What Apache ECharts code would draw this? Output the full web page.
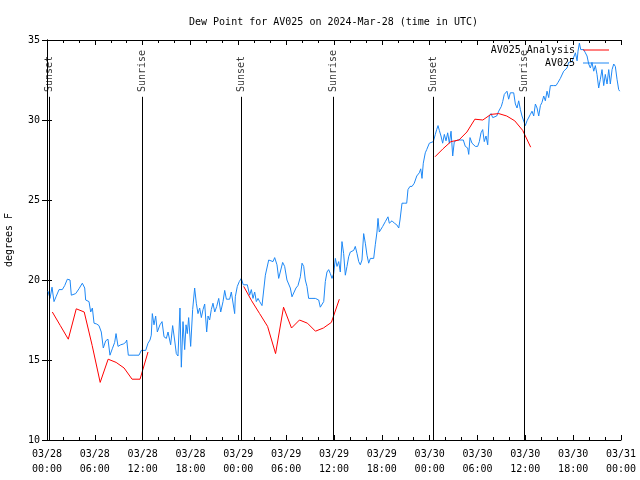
<!DOCTYPE html>
<html>
<head>
<meta charset="utf-8">
<script src="https://cdn.jsdelivr.net/npm/echarts@6/dist/echarts.min.js"></script>
<style>html,body{margin:0;padding:0;background:#fff}#c{width:640px;height:480px}</style>
</head>
<body>
<div id="c"></div>
<script>
// Hours since 03/28 00:00 UTC
const blueHours = [0.13,0.38,0.63,0.88,1.13,1.51,1.92,2.22,2.55,2.89,3.05,3.3,3.6,4.01,4.43,4.73,4.85,5.27,5.48,5.69,5.9,6.23,6.52,6.81,7.06,7.36,7.65,7.9,8.19,8.49,8.66,8.91,9.24,9.57,9.87,10.0,10.2,10.91,11.54,11.83,12.38,12.67,12.92,13.08,13.21,13.42,13.63,13.84,14.17,
14.43,14.68,14.97,15.18,15.51,15.76,16.01,16.22,16.43,16.68,16.85,17.06,17.27,17.44,17.6,17.77,18.02,18.27,18.52,18.73,18.94,19.15,19.36,19.57,19.78,20.03,20.2,20.4,20.61,20.82,21.04,21.29,21.54,21.79,22.08,22.29,22.5,22.91,23.12,23.33,23.54,23.62,23.87,24.12,24.37,24.62,24.87,25.13,25.42,25.63,25.84,26.05,26.26,26.47,26.68,26.97,27.22,27.39,27.64,27.81,28.06,28.35,
28.56,28.85,29.06,29.31,29.56,29.81,30.1,30.31,30.52,30.73,30.98,31.23,31.48,31.78,31.99,32.2,32.4,32.61,32.82,33.24,33.66,33.87,34.08,34.28,34.5,34.71,34.91,35.12,35.33,35.54,35.75,35.96,36.17,36.38,36.59,36.79,37.0,37.21,37.42,37.63,37.84,38.05,38.47,38.67,38.89,39.1,39.3,39.51,39.72,39.93,40.14,40.35,40.56,40.77,40.98,41.18,41.39,41.52,41.68,41.93,42.11,42.44,42.77,42.94,
43.28,43.57,43.87,44.12,44.28,44.53,44.82,45.12,45.28,45.53,45.79,46.07,46.38,46.7,46.88,47.04,47.2,47.45,47.63,47.79,47.96,48.21,48.46,48.71,48.88,49.05,49.21,49.42,49.63,49.84,50.05,50.26,50.47,50.68,50.89,51.09,51.3,51.52,51.72,51.93,52.22,52.47,52.77,52.9,53.06,53.31,53.48,53.73,54.02,54.23,54.44,54.65,54.85,55.07,55.28,55.48,55.69,55.91,56.11,56.41,56.66,56.82,56.99,57.16,57.36,
57.7,57.91,58.12,58.54,58.75,58.96,59.17,59.38,59.58,59.79,60.0,60.21,60.42,60.63,60.84,61.05,61.26,61.47,61.68,61.89,62.09,62.31,62.51,62.72,62.93,63.14,63.56,63.85,64.1,64.39,64.6,64.81,65.02,65.23,65.44,65.65,65.86,66.07,66.28,66.49,66.61,66.78,66.95,67.11,67.32,67.53,67.74,67.95,68.16,68.36,68.58,68.78,68.99,69.2,69.41,69.62,69.83,70.03,70.25,70.46,70.66,70.88,71.09,71.29,71.5,71.71,71.84];
const blueValues = [19.3,18.85,19.55,18.65,18.95,19.4,19.4,19.65,20.05,20.0,19.05,18.95,19.15,19.45,19.8,19.5,18.75,18.65,18.0,18.25,17.3,17.25,17.15,16.75,15.75,16.2,16.3,15.3,15.7,16.1,16.65,15.85,15.95,16.0,16.1,16.25,15.3,15.3,15.3,15.6,15.6,16.05,16.25,16.55,17.9,17.2,17.75,16.75,17.2,
17.4,16.45,16.35,16.75,15.95,17.15,16.25,15.4,15.25,18.25,14.55,17.4,15.65,17.2,16.65,17.65,15.85,18.15,19.5,18.55,17.9,18.25,17.65,18.15,18.5,16.75,17.75,17.5,18.15,18.55,18.0,18.35,18.85,18.0,18.65,19.35,18.8,18.8,19.25,19.15,17.9,18.95,19.6,19.9,20.1,19.7,19.6,19.7,19.05,19.4,18.85,19.25,18.65,18.85,18.65,18.4,18.4,20.3,20.4,21.25,21.35,21.15,
21.4,20.95,20.1,20.1,21.1,20.85,20.0,20.0,19.5,18.95,18.85,19.5,19.65,20.2,21.05,20.85,20.0,19.6,18.85,18.85,18.85,18.9,18.75,18.3,18.25,18.65,19.9,20.5,20.65,20.4,20.1,20.4,21.35,20.85,21.15,20.5,22.4,21.65,20.3,20.85,21.45,21.75,21.85,22.1,21.65,21.15,20.95,21.25,22.9,22.3,21.55,21.05,21.35,21.3,21.35,22.2,23.0,23.85,23.0,22.9,23.35,23.65,23.95,23.55,
23.7,23.55,23.45,23.25,23.75,24.8,24.8,24.8,25.65,25.85,25.85,26.05,26.5,26.7,26.95,26.35,27.3,27.95,28.15,28.05,28.55,28.65,28.65,29.1,29.4,29.65,29.35,29.0,28.55,29.1,28.7,29.2,28.55,29.3,27.75,28.65,28.65,28.75,28.7,28.75,28.75,28.35,28.25,27.85,28.9,28.55,28.45,28.35,28.35,28.65,29.2,29.4,28.65,29.0,28.45,30.25,30.4,30.15,30.1,30.25,30.55,30.65,30.85,31.15,31.6,
31.8,31.3,31.7,31.7,31.0,30.75,31.2,30.65,30.25,30.35,29.65,29.95,30.05,30.35,30.55,30.25,31.0,30.75,30.25,30.9,31.1,31.5,31.2,31.8,31.4,32.15,32.15,32.15,32.35,32.6,32.7,33.05,33.15,33.25,33.6,33.6,33.65,33.7,34.2,33.7,34.3,34.8,34.4,34.3,34.4,34.2,34.0,33.5,33.25,33.6,33.05,33.4,32.85,32.0,32.55,33.15,32.15,32.85,32.25,33.15,32.25,33.15,33.5,33.35,32.55,31.9,31.8];

const redHoursA = [0.67,1.67,2.67,3.67,4.67,5.67,6.67,7.67,8.67,9.67,10.67,11.67,12.67];
const redValuesA = [18.0,17.15,16.3,18.2,18.0,15.9,13.6,15.05,14.85,14.5,13.8,13.8,15.5];
const redHoursB = [24.67,25.67,26.67,27.67,28.67,29.67,30.67,31.67,32.67,33.67,34.67,35.67,36.67];
const redValuesB = [19.6,18.7,17.9,17.1,15.4,18.3,17.0,17.5,17.3,16.8,17.0,17.35,18.8];
const redHoursC = [48.67,49.67,50.67,51.67,52.67,53.67,54.67,55.67,56.67,57.67,58.67,59.67,60.67];
const redValuesC = [27.7,28.2,28.65,28.75,29.25,30.05,30.0,30.35,30.4,30.25,29.95,29.35,28.3];

const sunHours = [0.29,11.96,24.37,35.92,48.46,59.87];
const sunNames = ['Sunset','Sunrise','Sunset','Sunrise','Sunset','Sunrise'];

const yTicks = [10,15,20,25,30,35];

const FONT = 'DejaVu Sans Mono';
const pair = (h, v) => h.map((x, i) => [x, v[i]]);

function xLabel(v) {
  const d = 28 + Math.floor(v / 24);
  const h = v % 24;
  return '03/' + d + '\n' + (h < 10 ? '0' : '') + h + ':00';
}

const chart = echarts.init(document.getElementById('c'), null, {renderer: 'canvas'});
const axisBase = {
  axisLine: {show: true, lineStyle: {color: '#000', width: 1}},
  axisTick: {show: true, inside: true, length: 5, lineStyle: {color: '#000'}},
  splitLine: {show: false}
};
const redStyle = {color: '#ff0000', width: 1};
function redSeries(h, v) {
  return {name: 'AV025 Analysis', type: 'line', xAxisIndex: 0, yAxisIndex: 0,
    data: pair(h, v), showSymbol: false, symbol: 'none', lineStyle: redStyle,
    itemStyle: {color: '#ff0000'}, z: 3, animation: false};
}
chart.setOption({
  animation: false,
  textStyle: {fontFamily: FONT},
  title: {text: 'Dew Point for AV025 on 2024-Mar-28 (time in UTC)', left: 184, top: 12,
    textStyle: {fontFamily: FONT, fontSize: 10, fontWeight: 'normal', color: '#000'}},
  grid: {left: 47, right: 19, top: 40, bottom: 40, containLabel: false, outerBoundsMode: 'none'},
  legend: {
    data: ['AV025 Analysis', 'AV025'], orient: 'vertical', right: 26, top: 39,
    align: 'right', icon: 'rect', itemWidth: 26, itemHeight: 1, itemGap: 1,
    textStyle: {fontFamily: FONT, fontSize: 10, color: '#000', padding: [0, 3, 0, 0], lineHeight: 12}
  },
  xAxis: [
    Object.assign({}, axisBase, {type: 'value', min: 0, max: 72, interval: 6, position: 'bottom',
      minorTick: {show: true, splitNumber: 3, length: 3, lineStyle: {color: '#000'}},
      axisLabel: {formatter: xLabel, fontFamily: FONT, fontSize: 10, color: '#000', margin: 7, lineHeight: 15}}),
    Object.assign({}, axisBase, {type: 'value', min: 0, max: 72, interval: 6, position: 'top',
      minorTick: {show: true, splitNumber: 3, length: 3, lineStyle: {color: '#000'}},
      axisLabel: {show: false}})
  ],
  yAxis: [
    Object.assign({}, axisBase, {type: 'value', min: yTicks[0], max: yTicks[yTicks.length - 1], interval: 5,
      position: 'left', name: 'degrees F', nameLocation: 'middle', nameGap: 33, nameRotate: 90,
      nameTextStyle: {fontFamily: FONT, fontSize: 10, color: '#000'},
      axisLabel: {fontFamily: FONT, fontSize: 10, color: '#000', margin: 7}}),
    Object.assign({}, axisBase, {type: 'value', min: yTicks[0], max: yTicks[yTicks.length - 1], interval: 5,
      position: 'right', axisLabel: {show: false}})
  ],
  series: [
    redSeries(redHoursA, redValuesA),
    redSeries(redHoursB, redValuesB),
    redSeries(redHoursC, redValuesC),
    {name: 'AV025', type: 'line', data: pair(blueHours, blueValues), showSymbol: false, symbol: 'none',
      lineStyle: {color: '#1e88f5', width: 1}, itemStyle: {color: '#1e88f5'}, z: 2,
      markLine: {
        silent: true, symbol: 'none', animation: false,
        lineStyle: {color: '#000', width: 1, type: 'solid'},
        label: {show: false},
        data: sunHours.map(t => [{coord: [t, 10]}, {coord: [t, 31.45]}])
      }},
    {name: 'sun', type: 'scatter', symbolSize: 0, silent: true,
      data: sunHours.map((t, i) => ({value: [t, 31.75], name: sunNames[i]})),
      label: {show: true, position: 'inside', rotate: 90, align: 'left', verticalAlign: 'middle',
        formatter: p => p.name, fontFamily: FONT, fontSize: 10, color: '#000'}}
  ]
});
</script>
</body>
</html>
